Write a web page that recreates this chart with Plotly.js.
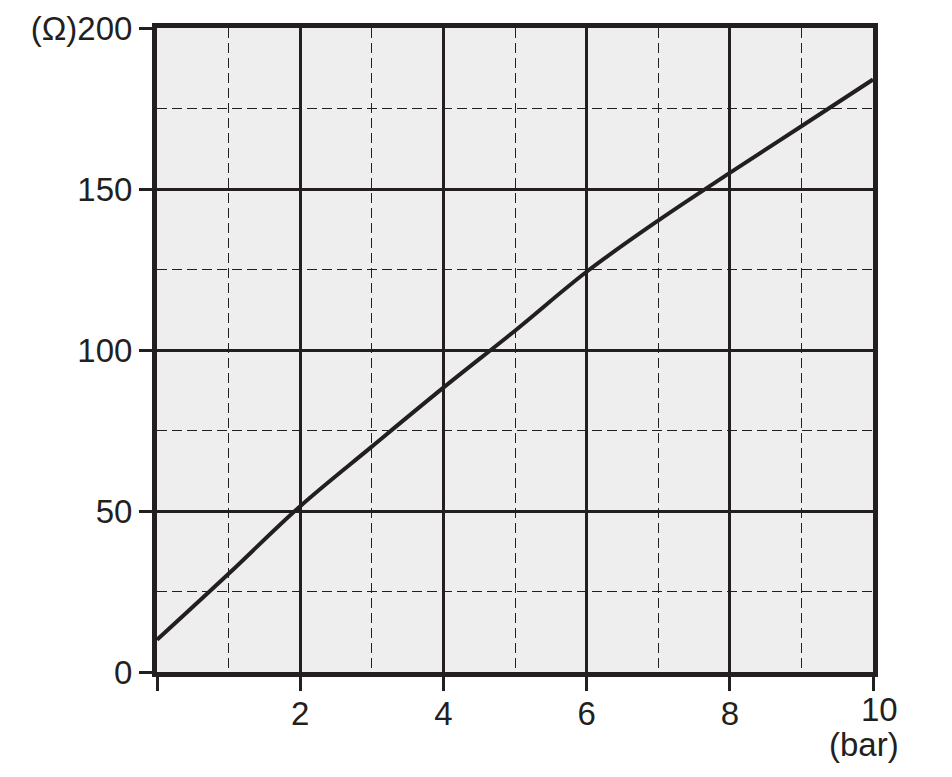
<!DOCTYPE html>
<html>
<head>
<meta charset="utf-8">
<script src="https://cdn.plot.ly/plotly-3.0.1.min.js"></script>
<style>html,body{margin:0;padding:0;background:#fff;}#chart{width:952px;height:777px;}</style>
</head>
<body>
<div id="chart"></div>
<script>
// Pressure (bar) vs resistance (Ω)
var pressureBar = [0, 1, 2, 3, 4, 5, 6, 7, 8, 9, 10];
var resistanceOhm = [10, 30.5, 51.5, 70, 88.3, 106, 124.3, 140.2, 155, 169.5, 184];

var xTickVals = [0, 2, 4, 6, 8, 10];
var xTickText = ['', '2', '4', '6', '8', ''];
var yTickVals = [0, 50, 100, 150, 200];
var yTickText = ['0', '50', '100', '150', '(Ω)200'];
var xLastTick = '10';
var xUnit = '(bar)';

var ink = '#231f20';
var fontFam = 'Liberation Sans, Arial, Helvetica, sans-serif';
var fs = 33;

var trace = {
  x: pressureBar,
  y: resistanceOhm,
  type: 'scatter',
  mode: 'lines',
  line: {color: ink, width: 4, shape: 'spline', smoothing: 1},
  hoverinfo: 'skip'
};

var layout = {
  width: 952,
  height: 777,
  margin: {l: 157, r: 79, t: 28, b: 105},
  paper_bgcolor: '#ffffff',
  plot_bgcolor: '#eeeeee',
  showlegend: false,
  font: {family: fontFam, color: ink, size: fs},
  xaxis: {
    range: [0, 10],
    tickmode: 'array',
    tickvals: xTickVals,
    ticktext: xTickText,
    ticks: 'outside',
    ticklen: 14,
    tickwidth: 3,
    tickcolor: ink,
    ticklabelstandoff: -6,
    showline: true,
    linewidth: 5,
    linecolor: ink,
    mirror: true,
    showgrid: true,
    gridcolor: ink,
    gridwidth: 3,
    zeroline: false,
    tickfont: {family: fontFam, size: fs, color: ink},
    minor: {dtick: 1, tick0: 0, showgrid: true, gridcolor: ink, gridwidth: 1, griddash: '10px,5px', ticks: ''}
  },
  yaxis: {
    range: [0, 200],
    tickmode: 'array',
    tickvals: yTickVals,
    ticktext: yTickText,
    ticks: 'outside',
    ticklen: 13,
    tickwidth: 3,
    tickcolor: ink,
    showline: true,
    linewidth: 5,
    linecolor: ink,
    mirror: true,
    showgrid: true,
    gridcolor: ink,
    gridwidth: 3,
    zeroline: false,
    tickfont: {family: fontFam, size: fs, color: ink},
    minor: {dtick: 25, tick0: 0, showgrid: true, gridcolor: ink, gridwidth: 1, griddash: '10px,5px', ticks: ''}
  },
  annotations: [{
    text: xLastTick,
    xref: 'x', yref: 'paper',
    x: 10, y: 0,
    xanchor: 'center', yanchor: 'middle',
    xshift: 6, yshift: -37,
    showarrow: false,
    font: {family: fontFam, size: fs, color: ink}
  }, {
    text: xUnit,
    xref: 'x', yref: 'paper',
    x: 10, y: 0,
    xanchor: 'center', yanchor: 'middle',
    xshift: -9, yshift: -72,
    showarrow: false,
    font: {family: fontFam, size: fs, color: ink}
  }]
};

Plotly.newPlot('chart', [trace], layout, {displayModeBar: false, staticPlot: true});
</script>
</body>
</html>
